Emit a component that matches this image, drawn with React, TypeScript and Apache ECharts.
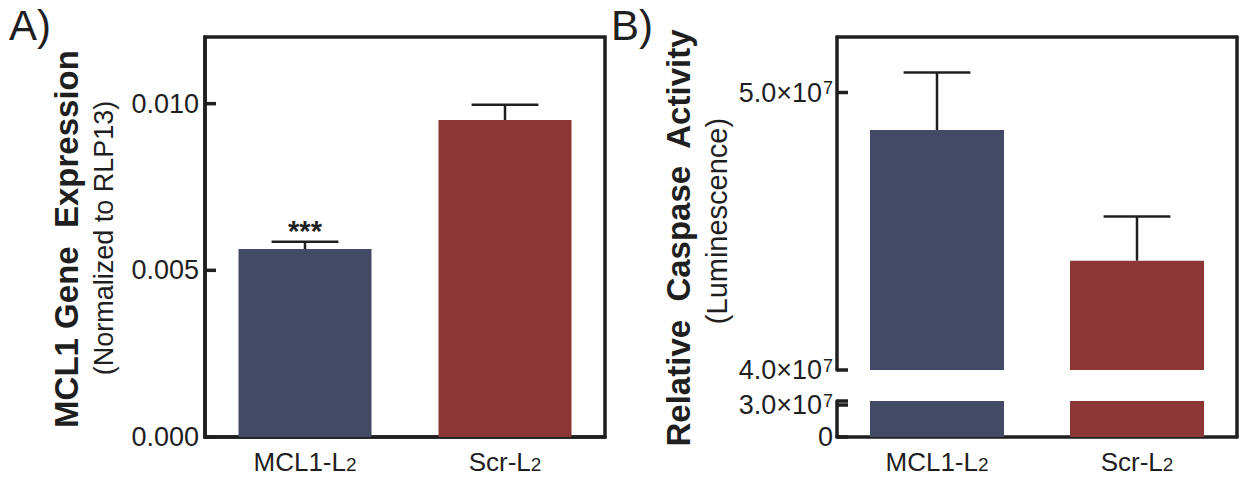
import React, { useEffect, useRef } from "react";
import * as echarts from "echarts";

const categories = ["MCL1-L2", "Scr-L2"];
const mcl1Expression = [0.00564, 0.00951];
const mcl1ExpressionUpper = [0.00586, 0.00997];
const significance = ["***", ""];
const caspaseActivity = [4.865e7, 4.394e7];
const caspaseUpper = [5.072e7, 4.553e7];
const yTicksA = [0, 0.005, 0.01];
const yTicksBUpper = [4e7, 5e7];
const yTicksBLower = [0, 3e7, 3.375e7];
const barColors = ["#434a65", "#8c3735"];

const FONT = '"Liberation Sans", Arial, sans-serif';
const INK = "#1f1f1f";

function sci(v: number): string {
  if (v === 0) return "{m|0}";
  const e = Math.floor(Math.log10(v) + 1e-9);
  const m = v / Math.pow(10, e);
  return `{m|${m.toFixed(1)}×10}{p|${e}}`;
}

const sciRich = {
  m: { fontSize: 27, fontFamily: FONT, color: INK, verticalAlign: "bottom" },
  p: { fontSize: 18, fontFamily: FONT, color: INK, verticalAlign: "top", padding: [0, 0, 0, 1] },
};

const catRich = {
  m: { fontSize: 26, fontFamily: FONT, color: INK, verticalAlign: "bottom" },
  s: { fontSize: 19, fontFamily: FONT, color: INK, verticalAlign: "bottom", padding: [0, 0, 1, 0] },
};

function catFmt(v: string): string {
  return `{m|${v.slice(0, -1)}}{s|${v.slice(-1)}}`;
}

function errorBar(upper: number[], sig: string[] | null) {
  return (params: any, api: any) => {
    const xi = api.value(0);
    const mean = api.value(1);
    const hi = upper[params.dataIndex];
    const base = api.coord([xi, mean]);
    const top = api.coord([xi, hi]);
    const bw = api.size([1, 0])[0];
    const half = bw * 0.167;
    const ls = { stroke: INK, lineWidth: 2.5 };
    const children: any[] = [
      { type: "line", shape: { x1: base[0], y1: base[1], x2: top[0], y2: top[1] }, style: ls },
      { type: "line", shape: { x1: top[0] - half, y1: top[1], x2: top[0] + half, y2: top[1] }, style: ls },
    ];
    if (sig && sig[params.dataIndex]) {
      children.push({
        type: "text",
        x: top[0],
        y: top[1] + 4,
        style: {
          text: sig[params.dataIndex],
          fontSize: 29,
          fontWeight: "bold",
          fontFamily: FONT,
          fill: INK,
          align: "center",
          verticalAlign: "bottom",
          textAlign: "center",
          textVerticalAlign: "bottom",
        },
      });
    }
    return { type: "group", children };
  };
}

function tickSeries(xi: number, yi: number, ticks: number[]) {
  return {
    type: "custom",
    xAxisIndex: xi,
    yAxisIndex: yi,
    z: 6,
    clip: false,
    data: ticks.map((v) => [0, v]),
    renderItem: (params: any, api: any) => {
      const p = api.coord([0, api.value(1)]);
      const bw = api.size([1, 0])[0];
      const x0 = p[0] - bw / 2;
      return {
        type: "group",
        children: [
          {
            type: "line",
            shape: { x1: x0, y1: p[1], x2: x0 + 11, y2: p[1] },
            style: { stroke: INK, lineWidth: 3.5 },
          },
        ],
      };
    },
  };
}

const axisLine = { show: true, lineStyle: { color: INK, width: 3.5 } };

export default function App() {
  const ref = useRef<HTMLDivElement>(null);
  useEffect(() => {
    document.body.style.margin = "0";
    const chart = echarts.init(ref.current!, null, { renderer: "svg" });
    const barData = (vals: number[]) =>
      vals.map((v, i) => ({ value: v, itemStyle: { color: barColors[i] } }));

    const option: any = {
      animation: false,
      backgroundColor: "#ffffff",
      grid: [
        { left: 205, top: 37, width: 400, height: 400, show: true, borderColor: INK, borderWidth: 3.5, backgroundColor: "transparent" },
        { left: 837, top: 37, width: 400, height: 400 },
        { left: 837, top: 37, width: 400, height: 333 },
        { left: 837, top: 401, width: 400, height: 36 },
      ],
      xAxis: [
        {
          type: "category", gridIndex: 0, data: categories,
          axisLine, axisTick: { show: false },
          axisLabel: { formatter: catFmt, rich: catRich, margin: 12 },
        },
        {
          type: "category", gridIndex: 1, data: categories,
          axisLine, axisTick: { show: false },
          axisLabel: { formatter: catFmt, rich: catRich, margin: 12 },
        },
        {
          type: "category", gridIndex: 1, data: categories, position: "top",
          axisLine, axisTick: { show: false }, axisLabel: { show: false },
        },
        { type: "category", gridIndex: 2, data: categories, show: false },
        { type: "category", gridIndex: 3, data: categories, show: false },
      ],
      yAxis: [
        {
          type: "value", gridIndex: 0, min: 0, max: 0.012, interval: 0.005,
          axisLine, splitLine: { show: false }, axisTick: { show: false },
          axisLabel: {
            showMaxLabel: false, formatter: (v: number) => v.toFixed(3),
            fontSize: 27, fontFamily: FONT, color: INK, margin: 6,
          },
        },
        {
          type: "value", gridIndex: 1, min: 0, max: 1, position: "right",
          axisLine, splitLine: { show: false }, axisTick: { show: false }, axisLabel: { show: false },
        },
        {
          type: "value", gridIndex: 2, min: 4e7, max: 5.2e7, interval: 1e7,
          axisLine, splitLine: { show: false }, axisTick: { show: false },
          axisLabel: { showMaxLabel: false, formatter: sci, rich: sciRich, margin: 4 },
        },
        {
          type: "value", gridIndex: 3, min: 0, max: 3.375e7, interval: 3e7,
          axisLine, splitLine: { show: false }, axisTick: { show: false },
          axisLabel: { showMaxLabel: false, formatter: sci, rich: sciRich, margin: 4 },
        },
      ],
      series: [
        { type: "bar", xAxisIndex: 0, yAxisIndex: 0, barWidth: "66.5%", data: barData(mcl1Expression), z: 1 },
        {
          type: "custom", xAxisIndex: 0, yAxisIndex: 0, z: 3,
          data: mcl1Expression.map((v, i) => [i, v]),
          renderItem: errorBar(mcl1ExpressionUpper, significance),
        },
        { type: "bar", xAxisIndex: 3, yAxisIndex: 2, barWidth: "67%", clip: true, data: barData(caspaseActivity), z: 1 },
        { type: "bar", xAxisIndex: 4, yAxisIndex: 3, barWidth: "67%", clip: true, data: barData(caspaseActivity), z: 1 },
        {
          type: "custom", xAxisIndex: 3, yAxisIndex: 2, z: 3,
          data: caspaseActivity.map((v, i) => [i, v]),
          renderItem: errorBar(caspaseUpper, null),
        },
        tickSeries(0, 0, yTicksA),
        tickSeries(3, 2, yTicksBUpper),
        tickSeries(4, 3, yTicksBLower),
      ],
      graphic: [
        { type: "text", x: 9, y: 4, style: { text: "A)", fontSize: 42, fontFamily: FONT, fill: INK } },
        { type: "text", x: 611, y: 4, style: { text: "B)", fontSize: 42, fontFamily: FONT, fill: INK } },
        {
          type: "text", x: 66, y: 239, rotation: Math.PI / 2,
          style: { text: "MCL1 Gene  Expression", fontSize: 33, fontWeight: "bold", fontFamily: FONT, fill: INK, align: "center", verticalAlign: "middle", textAlign: "center", textVerticalAlign: "middle" },
        },
        {
          type: "text", x: 104, y: 238, rotation: Math.PI / 2,
          style: { text: "(Normalized to RLP13)", fontSize: 27, fontFamily: FONT, fill: INK, align: "center", verticalAlign: "middle", textAlign: "center", textVerticalAlign: "middle" },
        },
        {
          type: "text", x: 678, y: 238, rotation: Math.PI / 2,
          style: { text: "Relative  Caspase  Activity", fontSize: 33, fontWeight: "bold", fontFamily: FONT, fill: INK, align: "center", verticalAlign: "middle", textAlign: "center", textVerticalAlign: "middle" },
        },
        {
          type: "text", x: 717, y: 221, rotation: Math.PI / 2,
          style: { text: "(Luminescence)", fontSize: 29, fontFamily: FONT, fill: INK, align: "center", verticalAlign: "middle", textAlign: "center", textVerticalAlign: "middle" },
        },
      ],
    };
    chart.setOption(option);
    return () => chart.dispose();
  }, []);
  return <div ref={ref} style={{ width: 1244, height: 478 }} />;
}
